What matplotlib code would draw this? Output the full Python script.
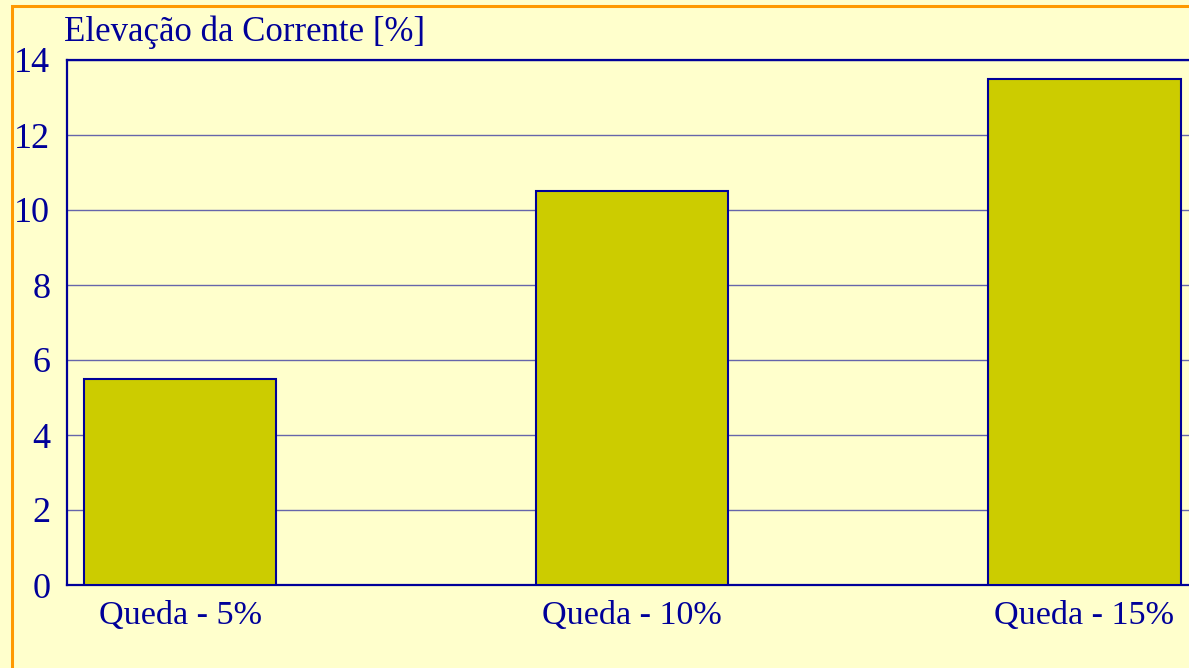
import matplotlib.pyplot as plt
from matplotlib.patches import Rectangle

# dados
categorias = ['Queda - 5%', 'Queda - 10%', 'Queda - 15%']
elevacao = [5.5, 10.5, 13.5]
yticks = [0, 2, 4, 6, 8, 10, 12, 14]

azul = '#000099'
fundo = '#FFFFCC'
barra = '#CCCC00'
laranja = '#FF9900'

plt.rcParams['font.family'] = ['Liberation Serif', 'DejaVu Serif']

W, H = 1189, 668
fig = plt.figure(figsize=(W / 100, H / 100), dpi=100)
fig.patch.set_facecolor(fundo)

# moldura laranja (cortada a direita e embaixo)
fig.patches.append(Rectangle((12 / W, -0.1), 1.2, 1 - 6 / H + 0.1,
                             transform=fig.transFigure, fill=False,
                             edgecolor=laranja, linewidth=2.2))

# eixo vai alem da borda direita da imagem
x0, x1 = 67, 1197.5
y0, y1 = 585, 60
ax = fig.add_axes([x0 / W, 1 - y0 / H, (x1 - x0) / W, (y0 - y1) / H])
ax.set_facecolor(fundo)

xs = range(len(categorias))
ax.bar(xs, elevacao, width=0.425, color=barra, edgecolor=azul,
       linewidth=1.5, zorder=3)

ax.set_xlim(-0.25, 2.25)
ax.set_ylim(0, 14)
ax.set_yticks(yticks)
ax.set_xticks(list(xs))
ax.set_xticklabels(categorias)
ax.tick_params(axis='both', length=0, colors=azul)
ax.tick_params(axis='y', pad=12, labelsize=26)
ax.tick_params(axis='x', pad=11, labelsize=24.6)
ax.yaxis.grid(True, color='#6666AA', linewidth=1.0, zorder=0)
for s in ['left', 'top', 'bottom', 'right']:
    ax.spines[s].set_color(azul)
    ax.spines[s].set_linewidth(1.6)

fig.text(64 / W, 1 - 41 / H, 'Elevação da Corrente [%]', color=azul,
         fontsize=25, ha='left', va='baseline')

fig.savefig('out.png', dpi=100, facecolor=fundo)
